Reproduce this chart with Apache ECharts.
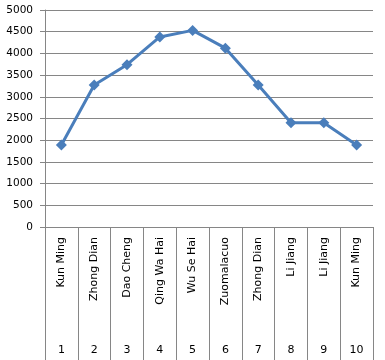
<!DOCTYPE html>
<html><head><meta charset="utf-8">
<script src="https://cdn.jsdelivr.net/npm/echarts@6/dist/echarts.min.js"></script>
<style>html,body{margin:0;padding:0;background:#fff}#c{width:385px;height:360px}</style>
</head><body><div id="c"></div>
<script>
var categories = ["Kun Ming","Zhong Dian","Dao Cheng","Qing Wa Hai","Wu Se Hai","Zuomalacuo","Zhong Dian","Li Jiang","Li Jiang","Kun Ming"];
var stopNumbers = ["1","2","3","4","5","6","7","8","9","10"];
var elevations = [1890, 3270, 3740, 4380, 4530, 4120, 3270, 2400, 2400, 1890];
var yTicks = {min: 0, max: 5000, interval: 500};

var chart = echarts.init(document.getElementById('c'));
var font = 'DejaVu Sans';
chart.setOption({
  animation: false,
  grid: {left: 45, right: 12, top: 10, bottom: 133},
  xAxis: [{
    type: 'category', data: categories, position: 'bottom',
    axisLine: {lineStyle: {color: '#868686', width: 1}},
    axisTick: {show: true, interval: 0, length: 133, lineStyle: {color: '#868686'}},
    axisLabel: {rotate: 90, interval: 0, margin: 10, color: '#000', fontFamily: font, fontSize: 11}
  }, {
    type: 'category', data: stopNumbers, position: 'bottom', offset: 114,
    axisLine: {show: false}, axisTick: {show: false},
    axisLabel: {interval: 0, margin: 4, color: '#000', fontFamily: font, fontSize: 11}
  }],
  yAxis: {
    type: 'value', min: yTicks.min, max: yTicks.max, interval: yTicks.interval,
    axisLine: {show: true, lineStyle: {color: '#868686'}},
    axisTick: {show: true, length: 5, lineStyle: {color: '#868686'}},
    axisLabel: {color: '#000', fontFamily: font, fontSize: 10.5, margin: 12,
      formatter: function (v) { return String(v); }},
    splitLine: {lineStyle: {color: '#868686', width: 1}}
  },
  series: [{
    type: 'line', data: elevations, xAxisIndex: 0,
    lineStyle: {color: '#4A7EBB', width: 3},
    itemStyle: {color: '#4A7EBB'},
    symbol: 'diamond', symbolSize: 11, showSymbol: true
  }]
});
</script></body></html>
